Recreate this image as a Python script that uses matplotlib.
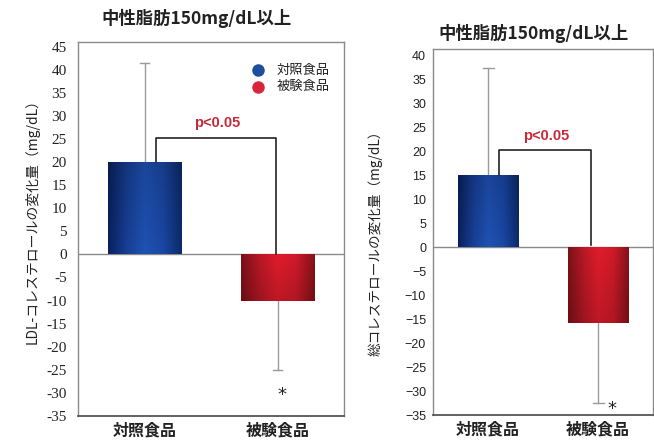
import numpy as np
import matplotlib
matplotlib.use("Agg")
import matplotlib.pyplot as plt
from matplotlib.colors import LinearSegmentedColormap

plt.rcParams['font.family'] = ['Noto Sans CJK JP', 'DejaVu Sans']

# data
groups = ["対照食品", "被験食品"]
title = "中性脂肪150mg/dL以上"
ldl_change = [20.0, -10.0]
ldl_err = [21.5, 15.0]          # one-sided: up for control, down for test
ldl_ticks = list(range(-35, 46, 5))
tc_change = [15.0, -15.8]
tc_err = [22.3, 16.7]
tc_ticks = list(range(-35, 41, 5))
p_text = "p<0.05"

BLUE_CMAP = LinearSegmentedColormap.from_list("b", ["#0a215e", "#173f95", "#1f52b4", "#1a47a3", "#0d2a6b"])
RED_CMAP = LinearSegmentedColormap.from_list("r", ["#7c1118", "#b81826", "#e01c2c", "#cf1a2a", "#861219"])
ERR_COLOR = "#9a9a9a"


def gradient_bars(ax, vals, cmaps, width):
    bars = ax.bar(range(len(vals)), vals, width=width, color="none", edgecolor="none", zorder=2)
    for patch, cmap in zip(bars.patches, cmaps):
        x0, y0 = patch.get_x(), patch.get_y()
        w, h = patch.get_width(), patch.get_height()
        xs = np.linspace(0, 1, 64)
        ys = np.linspace(0, 1, 32)
        shade = 1 - 0.15 * ys[:, None]
        img = cmap(np.tile(xs, (32, 1)))
        img[..., :3] *= shade[..., None] if h > 0 else shade[::-1][..., None]
        im = ax.imshow(img, extent=[x0, x0 + w, y0, y0 + h], origin="upper" if h < 0 else "lower",
                       aspect="auto", zorder=2, interpolation="bilinear")
        im.set_clip_path(patch)
    return bars


def one_sided_error(ax, x, y, err, cap):
    """Whisker from the bar end outward, with a cap only at the far end."""
    end = y + err if y >= 0 else y - err
    ax.plot([x, x], [y, end], color=ERR_COLOR, lw=1.0, zorder=1.5)
    ax.plot([x - cap / 2, x + cap / 2], [end, end], color=ERR_COLOR, lw=1.0, zorder=1.5)


def style_axes(ax, ticks, labels, ylim, tick_font, tick_size, pad):
    ax.set_xlim(-0.5, 1.5)
    ax.set_ylim(*ylim)
    ax.set_yticks(ticks)
    ax.set_yticklabels(labels)
    ax.set_xticks([0, 1])
    ax.set_xticklabels(groups, fontsize=11.5, fontweight="bold", color="#222")
    ax.tick_params(axis="both", length=0)
    ax.tick_params(axis="y", pad=pad, colors="#222")
    ax.tick_params(axis="x", pad=5)
    for lbl in ax.get_yticklabels():
        lbl.set_fontfamily(tick_font)
        lbl.set_fontsize(tick_size)
    for s in ax.spines.values():
        s.set_color("#8a8a8a")
        s.set_linewidth(1.0)
    ax.spines["bottom"].set_color("#555")
    ax.spines["bottom"].set_linewidth(1.3)
    ax.axhline(0, color="#8a8a8a", lw=1.0, zorder=1)


fig = plt.figure(figsize=(6.54, 4.43), dpi=100)

# LDL cholesterol panel
ax1 = fig.add_axes([78 / 654, 1 - 416 / 443, 266 / 654, 374 / 443])
gradient_bars(ax1, ldl_change, [BLUE_CMAP, RED_CMAP], 0.55)
for i in range(2):
    one_sided_error(ax1, i, ldl_change[i], ldl_err[i], 0.075)
style_axes(ax1, ldl_ticks, [str(t) for t in ldl_ticks], (-35, 46), ["Liberation Serif"], 11, 8)
ax1.plot([0.09, 0.09, 0.99, 0.99], [ldl_change[0], 25.3, 25.3, 0], color="#222", lw=1.2, zorder=3)
ax1.text(0.55, 27.0, p_text, color="#c8283a", fontsize=10.5, fontweight="bold",
         family="Liberation Sans", ha="center", va="bottom")
ax1.text(1.03, -30.5, "*", fontsize=13, ha="center", va="center", color="#222", family="DejaVu Sans")
ax1.set_ylabel("LDL-コレステロールの変化量（mg/dL）", fontsize=10, color="#222")
ax1.yaxis.set_label_coords(-0.143, 0.53)
# legend
ax1.plot([0.677], [0.925], "o", transform=ax1.transAxes, ms=8, color="#1d4f9e", clip_on=False)
ax1.plot([0.677], [0.880], "o", transform=ax1.transAxes, ms=8, color="#d7263a", clip_on=False)
ax1.text(0.745, 0.925, groups[0], transform=ax1.transAxes, fontsize=9.5, va="center", color="#222")
ax1.text(0.745, 0.880, groups[1], transform=ax1.transAxes, fontsize=9.5, va="center", color="#222")
fig.text(197 / 654, 1 - 18 / 443, title, fontsize=12.5, fontweight="bold", ha="center", va="center", color="#222")

# total cholesterol panel
ax2 = fig.add_axes([433 / 654, 1 - 415 / 443, 220 / 654, 366 / 443])
gradient_bars(ax2, tc_change, [BLUE_CMAP, RED_CMAP], 0.55)
for i in range(2):
    one_sided_error(ax2, i, tc_change[i], tc_err[i], 0.1)
style_axes(ax2, tc_ticks, [str(t).replace("-", "\u2212") for t in tc_ticks], (-35, 41.3),
           ["Liberation Sans"], 9, 5)
ax2.plot([0.1, 0.1, 0.94, 0.94], [tc_change[0], 20.3, 20.3, 0.5], color="#222", lw=1.2, zorder=3)
ax2.text(0.53, 21.8, p_text, color="#c8283a", fontsize=10.5, fontweight="bold",
         family="Liberation Sans", ha="center", va="bottom")
ax2.text(1.13, -33.8, "*", fontsize=13, ha="center", va="center", color="#222", family="DejaVu Sans")
ax2.set_ylabel("総コレステロールの変化量（mg/dL）", fontsize=9.8, color="#222")
ax2.yaxis.set_label_coords(-0.227, 0.48)
fig.text(534 / 654, 1 - 33 / 443, title, fontsize=12.5, fontweight="bold", ha="center", va="center", color="#222")

fig.savefig("out.png", dpi=100)
